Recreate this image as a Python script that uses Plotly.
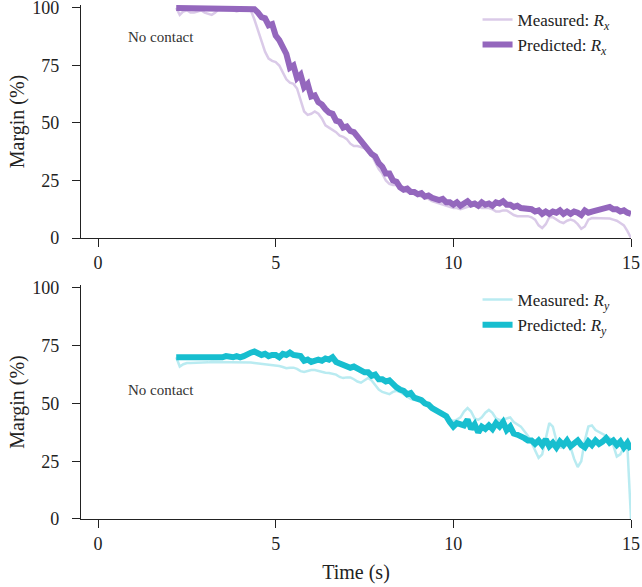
import plotly.graph_objects as go
from plotly.subplots import make_subplots

TIME = [2.2, 2.3, 2.4, 2.5, 2.6, 2.7, 2.8, 2.9, 3.0, 3.1, 3.2, 3.3, 3.4, 3.5, 3.6, 3.7, 3.8, 3.9,
        4.0, 4.1, 4.2, 4.3, 4.4, 4.5, 4.6, 4.7, 4.8, 4.9, 5.0, 5.1, 5.2, 5.3, 5.4, 5.5, 5.6, 5.7,
        5.8, 5.9, 6.0, 6.1, 6.2, 6.3, 6.4, 6.5, 6.6, 6.7, 6.8, 6.9, 7.0, 7.1, 7.2, 7.3, 7.4, 7.5,
        7.6, 7.7, 7.8, 7.9, 8.0, 8.1, 8.2, 8.3, 8.4, 8.5, 8.6, 8.7, 8.8, 8.9, 9.0, 9.1, 9.2, 9.3,
        9.4, 9.5, 9.6, 9.7, 9.8, 9.9, 10.0, 10.1, 10.2, 10.3, 10.4, 10.5, 10.6, 10.7, 10.8, 10.9,
        11.0, 11.1, 11.2, 11.3, 11.4, 11.5, 11.6, 11.7, 11.8, 11.9, 12.0, 12.1, 12.2, 12.3, 12.4,
        12.5, 12.6, 12.7, 12.8, 12.9, 13.0, 13.1, 13.2, 13.3, 13.4, 13.5, 13.6, 13.7, 13.8, 13.9,
        14.0, 14.1, 14.2, 14.3, 14.4, 14.5, 14.6, 14.7, 14.8, 14.9, 15.0]

MEASURED_RX = [100, 97, 98.5, 99, 98, 98, 98.5, 99, 98, 97.5, 97, 98, 99.5, 100, 100, 99.5, 99, 98.5,
               99, 100, 100, 99, 95, 90, 86, 81, 78, 77, 76.5, 75, 72, 69, 67.5, 67, 65, 60,
               55, 53.5, 54, 55, 54, 52, 49, 48, 47, 46, 44.5, 44, 43, 41, 40, 40, 39.5, 39,
               38, 36, 33, 30, 28, 25, 23.5, 23, 23, 22, 21, 20, 19.5, 19, 18.5, 18, 17.5, 17,
               16, 15.5, 15, 14.5, 14, 13.5, 13, 13, 12.5, 13, 13.5, 14, 14, 13.5, 13, 13,
               13, 12.5, 11.5, 11.5, 12, 12, 11, 10, 9.5, 9.5, 9.5, 9.5, 9, 8, 5.5,
               4.3, 6, 9, 9, 8, 7, 6.5, 7.5, 8, 7.5, 6, 4, 5, 8, 8.7,
               8.7, 8.7, 8.7, 8.5, 8.5, 8, 7.5, 6.5, 5.5, 3, 0]

PREDICTED_RX = [100, 100, 100, 100, 100, 100, 100, 100, 100, 100, 100, 100, 100, 100, 100, 100, 100, 100,
                100, 100, 100, 100, 99.5, 98, 96, 95.5, 92.5, 93, 88, 86, 83, 80, 74, 75, 69.5, 71,
                65.5, 67, 61.5, 62, 59, 58, 56, 54.5, 54, 51, 50.5, 48, 48.5, 46.5, 46, 44, 43, 40.5,
                39, 36.5, 35.5, 32.5, 31, 28, 28, 25, 24.5, 22, 21, 21.5, 20, 20, 19, 19.5, 18, 18.5,
                17.5, 17, 16.5, 17, 15.5, 15.5, 14.5, 15.5, 14, 15, 16, 14.5, 15, 14, 15.5, 14.5,
                15, 14, 15.5, 15, 16, 14.5, 14.5, 13.5, 14, 13, 13, 12.5, 12.5, 11.5, 12,
                10.5, 11.5, 10.5, 11.5, 11, 12, 10.5, 11.5, 10.5, 11.5, 11, 10, 12, 11, 11.5,
                12, 12.5, 12.5, 13, 13.5, 12.5, 12.5, 11.5, 12, 11, 10.5]

MEASURED_RY = [70, 66, 67, 67.5, 67.5, 67.5, 67.5, 67.7, 67.8, 67.8, 68, 68, 68, 68, 68, 68, 68, 68,
               68, 68, 67.8, 67.7, 67.5, 67.3, 67.2, 67, 67, 66.8, 66.5, 66.2, 65.8, 65.3, 65.5, 65.5, 65, 64,
               63.6, 64, 64.5, 64.5, 64, 63.5, 63.3, 63.2, 63, 62.5, 61.5, 61, 61.3, 61.3, 60.5, 59.5, 59, 60,
               61, 60, 58, 56, 55, 54.5, 54, 55, 55.5, 55, 54, 53, 52, 51.5, 51.5, 51, 50.5, 50,
               49, 47.5, 46, 45, 44, 43, 42.5, 43, 44, 46.5, 48, 46.5, 43.5, 42.9, 44, 46,
               47.2, 46, 43.5, 42.9, 43, 43.5, 44, 42, 41, 40, 38, 36, 33, 30, 26.5,
               28, 35, 41.5, 40, 34, 31, 31, 32, 31, 26, 22.5, 25, 34, 40, 40.5,
               38.5, 37.7, 37, 36, 35, 32, 27, 28, 31, 31, 0]

PREDICTED_RY = [70, 70, 69.5, 70, 70, 69.5, 70, 70, 69.5, 70, 70, 69.5, 70, 70, 70.5, 70, 70, 70.5,
                70, 70.5, 71.5, 72, 72.5, 72, 71, 71.5, 70.5, 71, 71, 70, 71.5, 71, 72, 71, 71, 70.5,
                68.5, 69, 68, 68.5, 69, 68.5, 69.5, 69, 70, 68, 67.5, 66.5, 66.5, 65.5, 66, 65, 64.5, 63.5,
                63.5, 62, 62.5, 60.5, 60.5, 59.5, 60, 58, 57, 56, 55.5, 54, 54.5, 52.5, 52, 51.5, 50, 49.5,
                48, 47, 46.5, 45, 44.5, 42, 40, 41.5, 41, 40.5, 43, 39, 41, 37.5, 40, 39,
                40.5, 39, 41.5, 40, 42, 38.5, 40, 37, 36.5, 36, 35, 34, 34, 32.5, 34,
                32, 34.5, 31.5, 33, 31, 33.5, 32, 34, 31.5, 33, 34, 32, 31, 33.5, 32,
                34, 32.5, 33.5, 35, 33, 34, 32, 33.5, 31, 33, 30]

X_TICKS = [0, 5, 10, 15]
Y_TICKS = [0, 25, 50, 75, 100]

PURPLE = "#9467bd"
PURPLE_LIGHT = "rgba(148,103,189,0.35)"
CYAN = "#17becf"
CYAN_LIGHT = "rgba(23,190,207,0.3)"
FONT = "Liberation Serif, Times New Roman, serif"
INK = "#222"

fig = make_subplots(rows=2, cols=1, shared_xaxes=False, vertical_spacing=0.09)

fig.add_trace(go.Scatter(x=TIME, y=MEASURED_RX, mode="lines", name="Measured: <i>R<sub>x</sub></i>",
                         line=dict(color=PURPLE_LIGHT, width=2.5), legend="legend"), row=1, col=1)
fig.add_trace(go.Scatter(x=TIME, y=PREDICTED_RX, mode="lines", name="Predicted: <i>R<sub>x</sub></i>",
                         line=dict(color=PURPLE, width=6), legend="legend"), row=1, col=1)
fig.add_trace(go.Scatter(x=TIME, y=MEASURED_RY, mode="lines", name="Measured: <i>R<sub>y</sub></i>",
                         line=dict(color=CYAN_LIGHT, width=2.5), legend="legend2"), row=2, col=1)
fig.add_trace(go.Scatter(x=TIME, y=PREDICTED_RY, mode="lines", name="Predicted: <i>R<sub>y</sub></i>",
                         line=dict(color=CYAN, width=6), legend="legend2"), row=2, col=1)

axis_common = dict(showline=True, linecolor=INK, linewidth=1.2, ticks="outside", ticklen=8,
                   tickcolor=INK, tickwidth=1.2, showgrid=False, zeroline=False, automargin=False,
                   ticklabeloverflow="allow", tickfont=dict(family=FONT, size=18, color=INK))

for r in (1, 2):
    fig.update_xaxes(range=[-0.48, 15], tickvals=X_TICKS, ticklabelstandoff=0, **axis_common, row=r, col=1)
    fig.update_yaxes(range=[0, 101.3], tickvals=Y_TICKS, ticklabelstandoff=9,
                     title=dict(text="Margin (%)", font=dict(family=FONT, size=20, color=INK), standoff=2),
                     **axis_common, row=r, col=1)

fig.update_xaxes(title=dict(text="Time (s)", font=dict(family=FONT, size=20, color=INK), standoff=12), row=2, col=1)

fig.update_layout(
    xaxis=dict(domain=[0, 1]), xaxis2=dict(domain=[0, 1]),
    yaxis=dict(domain=[0.5467, 1.0]), yaxis2=dict(domain=[0.0, 0.4553]),
)

legend_common = dict(font=dict(family=FONT, size=17, color=INK), bgcolor="rgba(0,0,0,0)",
                     xanchor="left", yanchor="top", x=0.721, tracegroupgap=0)
fig.update_layout(
    legend=dict(y=1.006, **legend_common),
    legend2=dict(y=0.461, **legend_common),
)

fig.add_annotation(x=1.78, y=87.4, text="No contact", showarrow=False, xref="x", yref="y",
                   font=dict(family=FONT, size=15, color="#333"))
fig.add_annotation(x=1.78, y=55.8, text="No contact", showarrow=False, xref="x2", yref="y2",
                   font=dict(family=FONT, size=15, color="#333"))

fig.update_layout(
    width=642, height=587,
    margin=dict(l=81, r=11, t=5, b=68, autoexpand=False),
    plot_bgcolor="white", paper_bgcolor="white",
    font=dict(family=FONT, color=INK),
)

fig.write_html("out.html", config={"displayModeBar": False},
               post_script="document.body.style.margin='0px';")
